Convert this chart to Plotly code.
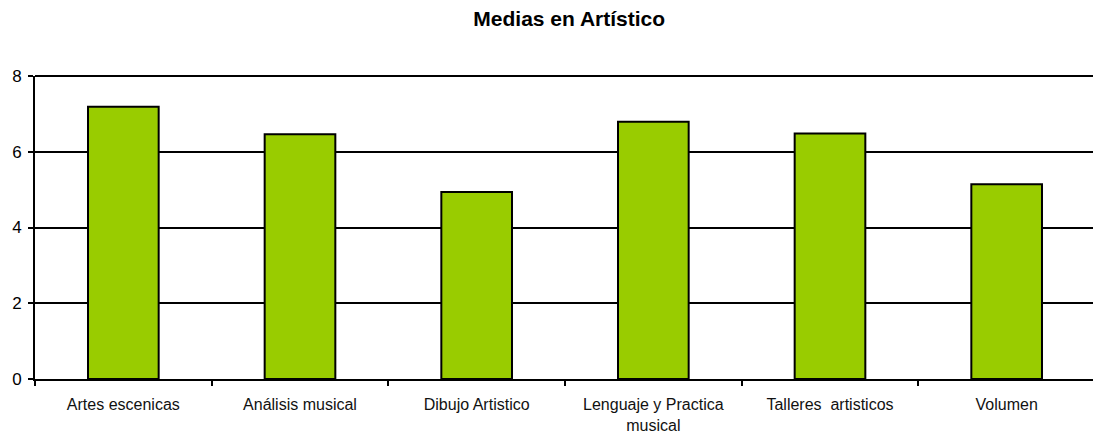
import plotly.graph_objects as go

categories = ["Artes escenicas", "Análisis musical", "Dibujo Artistico",
              "Lenguaje y Practica<br>musical", "Talleres  artisticos", "Volumen"]
values = [7.19, 6.46, 4.94, 6.79, 6.48, 5.14]

# the page body adds an 8px margin, so the figure is sized/offset to compensate
W, H = 1093, 432

fig = go.Figure(go.Bar(
    x=categories, y=values, width=0.4,
    marker=dict(color="#99CC00", line=dict(color="black", width=2)),
))

fig.update_layout(
    width=W, height=H,
    margin=dict(l=27, r=6, t=68, b=61, autoexpand=False),
    paper_bgcolor="white", plot_bgcolor="white",
    showlegend=False,
    title=dict(text="<b>Medias en Artístico</b>", xref="paper", x=0.504, xanchor="center",
               y=1 - 11 / H, yanchor="middle",
               font=dict(family="Liberation Sans, Arial", size=21, color="black")),
    font=dict(family="Liberation Sans, Arial", size=16, color="black"),
    shapes=[dict(type="line", xref="paper", yref="paper", x0=0, x1=1, y0=1, y1=1,
                 line=dict(color="black", width=2), layer="above")],
)
fig.update_xaxes(
    automargin=False,
    showline=True, linecolor="black", linewidth=2,
    ticks="outside", ticklen=5, tickwidth=2, tickcolor="black",
    tickson="boundaries", showgrid=False,
    ticklabelstandoff=10,
    tickfont=dict(size=16, color="#111111"),
)
fig.update_yaxes(
    automargin=False,
    range=[0, 8], dtick=2, showline=True, linecolor="black", linewidth=2,
    ticks="outside", ticklen=5, tickwidth=2, tickcolor="black",
    showgrid=True, gridcolor="black", gridwidth=2, zeroline=False,
    ticklabelstandoff=3,
    tickfont=dict(size=17),
)

fig.write_html("out.html")
